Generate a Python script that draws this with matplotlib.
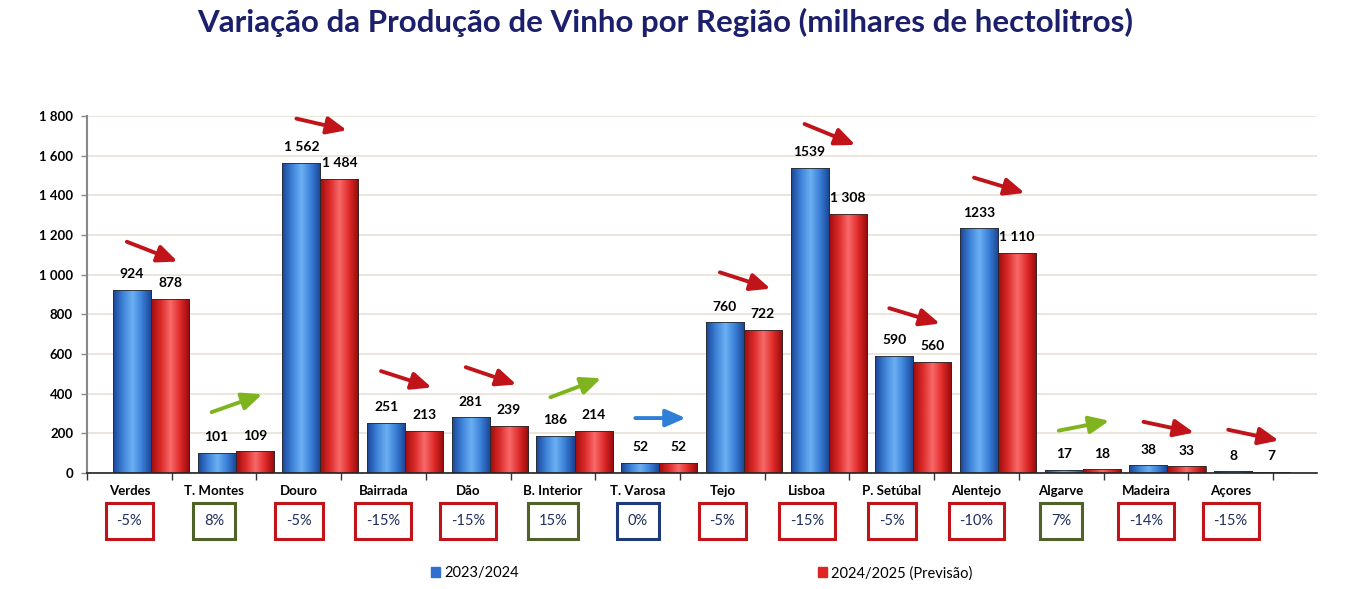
"""Producao de vinho por regiao: 2023/2024 vs previsao 2024/2025."""

import matplotlib

matplotlib.use("Agg")
import matplotlib.pyplot as plt  # noqa: E402
import numpy as np  # noqa: E402
from matplotlib.colors import LinearSegmentedColormap  # noqa: E402
from matplotlib.patches import FancyArrowPatch  # noqa: E402
from matplotlib.transforms import blended_transform_factory  # noqa: E402

plt.rcParams["font.family"] = ["Lato", "DejaVu Sans"]

regioes = ["Verdes", "T. Montes", "Douro", "Bairrada", "Dão", "B. Interior",
           "T. Varosa", "Tejo", "Lisboa", "P. Setúbal", "Alentejo",
           "Algarve", "Madeira", "Açores"]
prod_2324 = [924, 101, 1562, 251, 281, 186, 52, 760, 1539, 590, 1233, 17, 38, 8]
prod_2425 = [878, 109, 1484, 213, 239, 214, 52, 722, 1308, 560, 1110, 18, 33, 7]
rot_2324 = ["924", "101", "1 562", "251", "281", "186", "52", "760", "1539",
            "590", "1233", "17", "38", "8"]
rot_2425 = ["878", "109", "1 484", "213", "239", "214", "52", "722", "1 308",
            "560", "1 110", "18", "33", "7"]
variacao = ["-5%", "8%", "-5%", "-15%", "-15%", "15%", "0%", "-5%", "-15%",
            "-5%", "-10%", "7%", "-14%", "-15%"]
# altura (milhares hl) do inicio e fim de cada seta de tendencia
seta_ini = [1171, 302, 1790, 518, 538, 377, 277, 1016, 1765, 835, 1493, 211, 261, 221]
seta_fim = [1061, 402, 1725, 427, 442, 483, 277, 925, 1649, 749, 1408, 266, 201, 161]

cor_tend = {"down": "#c0141a", "up": "#7fb41e", "flat": "#2f7fd8"}
cor_caixa = {"down": "#c0141a", "up": "#4f6228", "flat": "#1f3a7a"}

cmap_azul = LinearSegmentedColormap.from_list(
    "azul", ["#1b4597", "#3d82d8", "#6cb0f2", "#3a7fd8", "#1a4392"])
cmap_verm = LinearSegmentedColormap.from_list(
    "verm", ["#9e0c0c", "#dc2a2a", "#f86a6a", "#e02a2a", "#950a0a"])

fig = plt.figure(figsize=(13.5, 5.89), dpi=100)
ax = fig.add_axes([87 / 1350, 116 / 589, 1230 / 1350, 357 / 589])

x = np.arange(len(regioes))
larg = 0.45
grad = np.linspace(0, 1, 64).reshape(1, -1)


def barras_gradiente(pos, vals, cmap):
    bars = ax.bar(pos, vals, width=larg, color="none", edgecolor="#2a2a2a",
                  linewidth=0.6, zorder=3)
    for b in bars:
        x0, w, h = b.get_x(), b.get_width(), b.get_height()
        im = ax.imshow(grad, extent=[x0, x0 + w, 0, h], aspect="auto",
                       cmap=cmap, zorder=2, interpolation="bicubic")
        im.set_clip_path(b)
    return bars


b1 = barras_gradiente(x + 0.03, prod_2324, cmap_azul)
b2 = barras_gradiente(x + 0.48, prod_2425, cmap_verm)

for bars, rots in ((b1, rot_2324), (b2, rot_2425)):
    for b, r in zip(bars, rots):
        ax.annotate(r, (b.get_x() + b.get_width() / 2, b.get_height()),
                    xytext=(0, 7), textcoords="offset points", ha="center",
                    va="bottom", fontsize=10, fontweight="bold")

for i in range(len(regioes)):
    a, f = seta_ini[i], seta_fim[i]
    tend = "down" if f < a else ("up" if f > a else "flat")
    ax.add_patch(FancyArrowPatch(
        (i - 0.06, a), (i + 0.6, f),
        arrowstyle="-|>,head_length=0.8,head_width=0.35",
        mutation_scale=15, lw=2.8, color=cor_tend[tend], zorder=4))

trans = blended_transform_factory(ax.transData, ax.transAxes)
for i, (nome, v) in enumerate(zip(regioes, variacao)):
    ax.text(i, -0.05, nome, transform=trans, ha="center", va="center",
            fontsize=9.5, fontweight="bold")
    tend = "down" if v.startswith("-") else ("flat" if v == "0%" else "up")
    ax.text(i, -0.135, v, transform=trans, ha="center", va="center",
            fontsize=10.5, color="#1f2f5c",
            bbox=dict(boxstyle="square,pad=0.75", fc="white",
                      ec=cor_caixa[tend], lw=2.2))

ax.set_ylim(0, 1800)
ax.set_xlim(-0.5, 14.02)
ax.set_yticks(range(0, 1801, 200))
ax.set_yticklabels([f"{v:,}".replace(",", " ") for v in range(0, 1801, 200)],
                   fontsize=9.5, fontweight="bold")
ax.set_xticks(np.arange(-0.5, 14, 1))
ax.set_xticklabels([])
ax.tick_params(axis="x", length=5, width=1, color="#333333")
ax.tick_params(axis="y", length=4, width=1, color="#888888", pad=6)
ax.grid(axis="y", color="#e6e2d6", lw=1.2, zorder=0)
ax.set_axisbelow(True)
for s in ("top", "right"):
    ax.spines[s].set_visible(False)
ax.spines["left"].set_color("#888888")
ax.spines["left"].set_linewidth(1.5)
ax.spines["bottom"].set_color("#222222")
ax.spines["bottom"].set_linewidth(1.2)

fig.text(0.493, 0.962, "Variação da Produção de Vinho por Região (milhares de hectolitros)",
         ha="center", va="center", fontsize=22.5, fontweight="bold", color="#1c1f6b")

h1 = plt.Rectangle((0, 0), 1, 1, color="#2f6fce")
h2 = plt.Rectangle((0, 0), 1, 1, color="#e02424")
fig.legend([h1, h2], ["2023/2024", "2024/2025 (Previsão)"], ncol=2,
           loc="center", bbox_to_anchor=(0.52, 0.027), frameon=False,
           fontsize=10.5, handlelength=0.6, handleheight=0.6,
           handletextpad=0.3, columnspacing=20.5)

fig.savefig("out.png", dpi=100)
